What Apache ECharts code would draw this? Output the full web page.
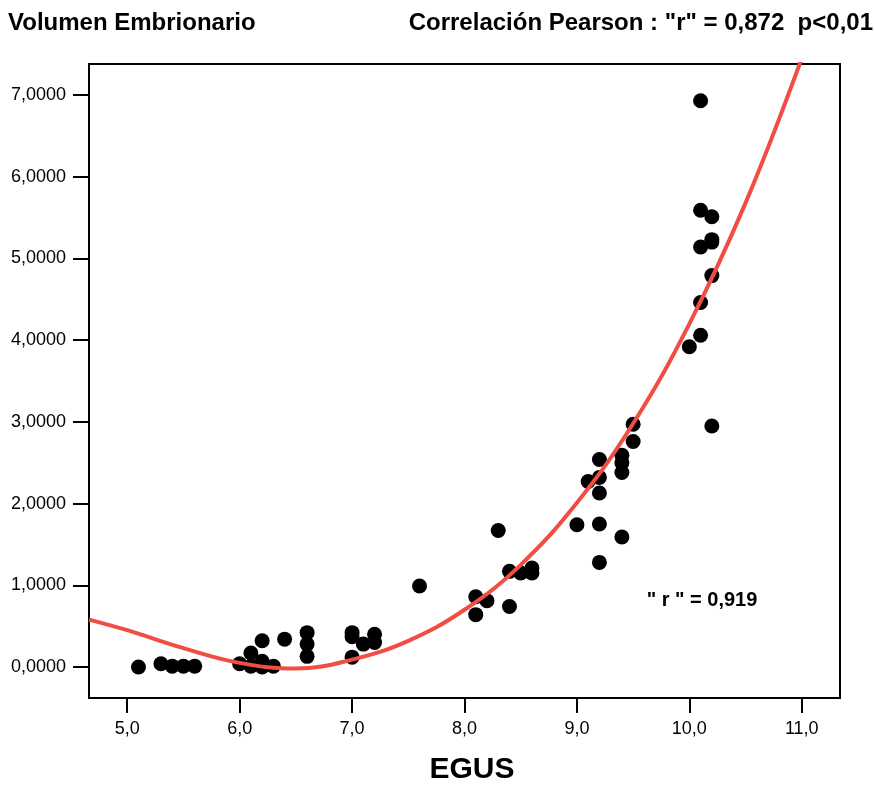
<!DOCTYPE html>
<html><head><meta charset="utf-8">
<script src="https://cdn.jsdelivr.net/npm/echarts@6/dist/echarts.min.js"></script>
<style>html,body{margin:0;padding:0;background:#fff}#c{width:874px;height:785px}</style>
</head><body><div id="c"></div>
<script>
const egus = [5.1,5.3,5.4,5.5,5.6,6.0,6.1,6.1,6.2,6.2,6.2,6.3,6.4,6.6,6.6,6.6,7.0,7.0,7.0,7.1,7.2,7.2,7.6,8.1,8.2,8.1,8.3,8.4,8.4,8.5,8.6,8.6,9.0,9.1,9.2,9.2,9.2,9.2,9.2,9.4,9.4,9.4,9.4,9.5,9.5,10.0,10.1,10.1,10.1,10.1,10.1,10.2,10.2,10.2,10.2,10.2];
const volumen = [0.00,0.04,0.01,0.01,0.01,0.04,0.17,0.01,0.32,0.07,0.00,0.01,0.34,0.42,0.28,0.13,0.42,0.37,0.12,0.28,0.40,0.30,0.99,0.86,0.81,0.64,1.67,1.17,0.74,1.15,1.21,1.15,1.74,2.27,2.54,2.32,2.13,1.75,1.28,2.59,2.50,2.38,1.59,2.97,2.76,3.92,6.93,5.59,5.14,4.46,4.06,5.51,5.23,5.20,4.79,2.95];
// fitted curve
const curveX = [4.66,5.0,5.5,6.0,6.5,7.0,7.5,8.0,8.5,9.0,9.5,10.0,10.5,11.0];
const curveY = [0.58,0.45,0.23,0.05,-0.02,0.09,0.32,0.70,1.25,2.01,2.98,4.20,5.68,7.45];
const xTicks = [5,6,7,8,9,10,11];
const yTicks = [0,1,2,3,4,5,6,7];
const titleLeft = 'Volumen Embrionario';
const titleRight = 'Correlación Pearson : "r" = 0,872  p<0,01';
const rLabel = '" r " = 0,919';
const xName = 'EGUS';

const xMin = 4.66, xMax = 11.34, yMin = -0.38, yMax = 7.38;
const points = egus.map((x,i)=>[x, volumen[i]]);
const curve = curveX.map((x,i)=>[x, curveY[i]]);
const FONT = '"Liberation Sans", Arial, sans-serif';
const chart = echarts.init(document.getElementById('c'), null, {renderer:'canvas'});
chart.setOption({
  animation:false,
  backgroundColor:'#fff',
  grid:{left:89,right:34,top:64,bottom:87,show:true,borderColor:'#000',borderWidth:2,backgroundColor:'transparent'},
  xAxis:{type:'value',min:xMin,max:xMax,
    axisLine:{show:true,onZero:false,lineStyle:{color:'#000',width:2}},
    axisTick:{show:true,length:15,lineStyle:{color:'#000',width:2},customValues:xTicks},
    axisLabel:{customValues:xTicks,margin:22,color:'#000',fontSize:18,fontFamily:FONT,formatter:v=>v.toFixed(1).replace('.',',')},
    splitLine:{show:false}},
  yAxis:{type:'value',min:yMin,max:yMax,
    axisLine:{show:true,onZero:false,lineStyle:{color:'#000',width:2}},
    axisTick:{show:true,length:16,lineStyle:{color:'#000',width:2},customValues:yTicks},
    axisLabel:{customValues:yTicks,margin:23,color:'#000',fontSize:18,fontFamily:FONT,formatter:v=>v.toFixed(4).replace('.',',')},
    splitLine:{show:false}},
  series:[
    {type:'scatter',data:points,symbol:'circle',symbolSize:15,itemStyle:{color:'#000',opacity:1},z:2},
    {type:'line',data:curve,showSymbol:false,smooth:0.4,clip:true,lineStyle:{color:'#f04e45',width:4},z:3}
  ],
  graphic:[
    {type:'text',x:8,y:23,style:{text:titleLeft,font:'bold 24px '+FONT,fill:'#000',align:'left',verticalAlign:'middle'}},
    {type:'text',x:873,y:23,style:{text:titleRight,font:'bold 24px '+FONT,fill:'#000',align:'right',verticalAlign:'middle'}},
    {type:'text',x:702,y:600,style:{text:rLabel,font:'bold 20px '+FONT,fill:'#000',align:'center',verticalAlign:'middle'}},
    {type:'text',x:472,y:770,style:{text:xName,font:'bold 30px '+FONT,fill:'#000',align:'center',verticalAlign:'middle'}}
  ]
});
</script></body></html>
